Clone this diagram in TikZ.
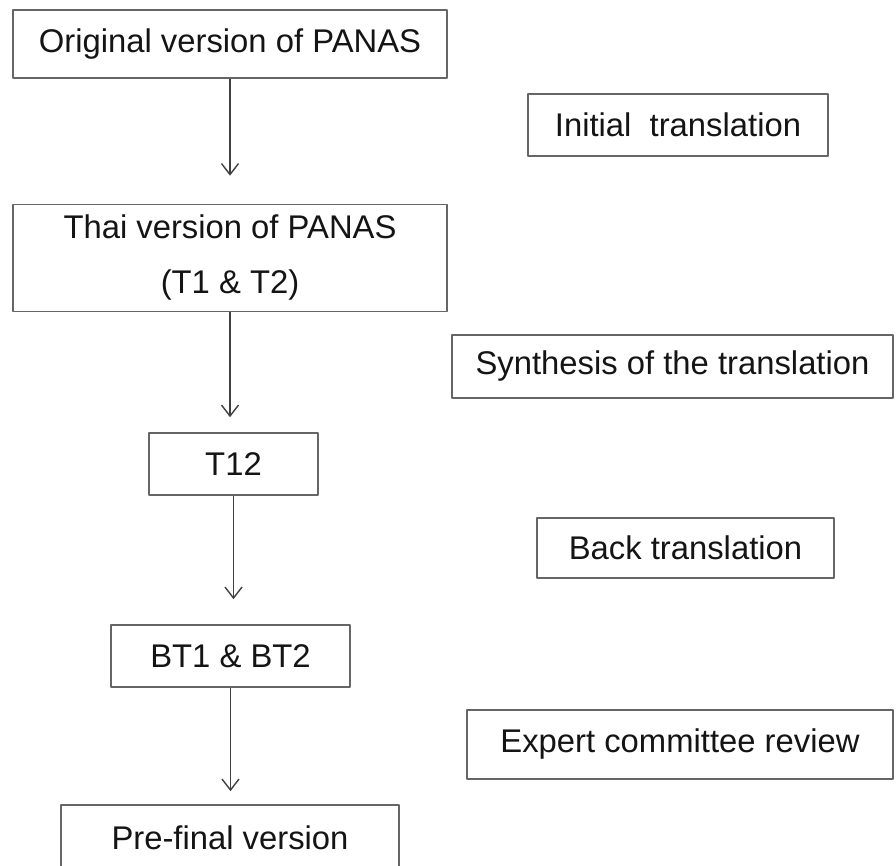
\documentclass[tikz,border=0pt]{standalone}
\usepackage{fontspec}
\setmainfont{Liberation Sans}
\usetikzlibrary{arrows.meta}

\begin{document}
\begin{tikzpicture}[x=1pt, y=-1pt, line join=round, font=\fontsize{32.8}{39}\selectfont,
		>={Straight Barb[length=11pt,width=17pt]},
		stage/.style={draw=black!60, line width=1.6pt, text=black!92, inner sep=0pt, align=center},
		flow/.style={->, draw=black!75, line width=1.4pt}]
		\useasboundingbox (0,0) rectangle (896,866);
		% left column
		\node[stage, minimum width=434, minimum height=68] (orig) at (230,44) {Original version of PANAS};
		\node[stage, minimum width=434, minimum height=107, font=\fontsize{32.8}{55}\selectfont] (thai) at (230,258) {Thai version of PANAS\\(T1 \& T2)};
		\node[stage, minimum width=169, minimum height=62] (t12) at (233.5,464) {T12};
		\node[stage, minimum width=239, minimum height=62] (bt) at (230.5,656) {BT1 \& BT2};
		\node[stage, minimum width=338, minimum height=66] (pre) at (230,838) {Pre-final version};
		% right column
		\node[stage, minimum width=300, minimum height=62] (init) at (678,125) {Initial\ \ translation};
		\node[stage, minimum width=441, minimum height=63] (synth) at (672.5,366.5) {Synthesis of the translation};
		\node[stage, minimum width=297, minimum height=60] (back) at (685.5,548) {Back translation};
		\node[stage, minimum width=426, minimum height=69] (expert) at (680,744.5) {Expert committee review};
		% arrows
		\draw[flow, shorten >=28pt] (orig) -- (thai);
		\draw[flow, shorten >=15pt] (thai.south) -- (thai.south |- t12.north);
		\draw[flow, shorten >=25pt] (t12.south) -- (t12.south |- bt.north);
		\draw[flow, shorten >=13pt] (bt.south) -- (bt.south |- pre.north);
	\end{tikzpicture}
\end{document}
